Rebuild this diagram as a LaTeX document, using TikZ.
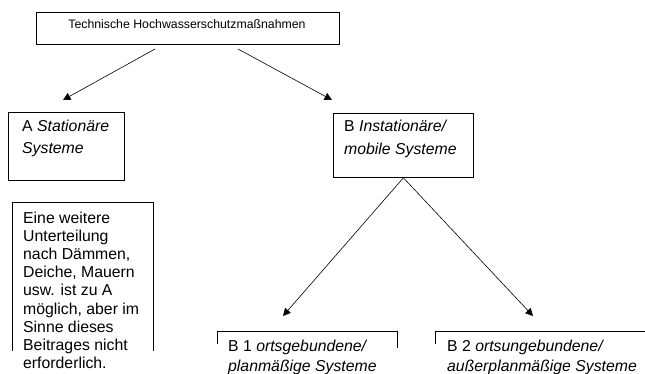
\documentclass[tikz,border=0pt]{standalone}
\usepackage{fontspec}
\setmainfont{Liberation Sans}
\usetikzlibrary{arrows.meta}
\begin{document}
\begin{tikzpicture}[x=1pt,y=-1pt,
  box/.style={draw, line width=0.8pt, inner sep=0pt},
  txt/.style={anchor=base west, inner sep=0pt, font=\fontsize{15.8}{18}\selectfont},
  arr/.style={-{Triangle[length=7.5pt,width=7.5pt]}, line width=0.6pt}]
\useasboundingbox (0,0) rectangle (645,374);
% top
\node[box, minimum width=303pt, minimum height=32pt] (top) at (188,28) {};
\node[inner sep=0pt, font=\fontsize{12.3}{15}\selectfont] (toptxt) at (187,24) {Technische Hochwasserschutzmaßnahmen};
\coordinate (a1s) at (155,49);
\coordinate (a1e) at (63,100);
\coordinate (a2s) at (238,49);
\coordinate (a2e) at (332,100);
\draw[arr] (a1s) -- (a1e);
\draw[arr] (a2s) -- (a2e);
% box A
\node[box, anchor=north west, minimum width=116pt, minimum height=68pt] (A) at (8,112) {};
\node[txt] (Atxt1) at (22,132) {A \textit{Stationäre}};
\node[txt] (Atxt2) at (22,154) {\textit{Systeme}};
% box B
\node[box, anchor=north west, minimum width=140pt, minimum height=64pt] (B) at (333,113) {};
\node[txt] (Btxt1) at (344,132) {B \textit{Instationäre/}};
\node[txt] (Btxt2) at (344,155) {\textit{mobile Systeme}};
\coordinate (b1e) at (283,316);
\coordinate (b2e) at (533,316);
\draw[arr] (B.south) -- (b1e);
\draw[arr] (B.south) -- (b2e);
% note box
\coordinate (n1) at (12,351);
\coordinate (n2) at (12,202);
\coordinate (n3) at (153,202);
\coordinate (n4) at (153,351);
\draw[line width=0.8pt] (n1) -- (n2) -- (n3) -- (n4);
\node[txt] (N1) at (23,223.5) {Eine weitere};
\node[txt] (N2) at (23,241.6) {Unterteilung};
\node[txt] (N3) at (23,259.7) {nach Dämmen,};
\node[txt] (N4) at (23,277.8) {Deiche, Mauern};
\node[txt] (N5) at (23,295.9) {usw. ist zu A};
\node[txt] (N6) at (23,314.0) {möglich, aber im};
\node[txt] (N7) at (23,332.1) {Sinne dieses};
\node[txt] (N8) at (23,350.2) {Beitrages nicht};
\node[txt] (N9) at (23,368.3) {erforderlich.};
% B1
\coordinate (p1) at (217,344);
\coordinate (p2) at (217,331);
\coordinate (p3) at (397,331);
\coordinate (p4) at (397,348);
\draw[line width=0.8pt] (p1) -- (p2) -- (p3) -- (p4);
\node[txt] (B1a) at (228,351) {B 1 \textit{ortsgebundene/}};
\node[txt] (B1b) at (228,371) {\textit{planmäßige Systeme}};
% B2
\coordinate (q1) at (435,344);
\coordinate (q2) at (435,331);
\coordinate (q3) at (645,331);
\draw[line width=0.8pt] (q1) -- (q2) -- (q3);
\node[txt] (B2a) at (447,351) {B 2 \textit{ortsungebundene/}};
\node[txt] (B2b) at (447,371) {\textit{außerplanmäßige Systeme}};
\end{tikzpicture}
\end{document}
